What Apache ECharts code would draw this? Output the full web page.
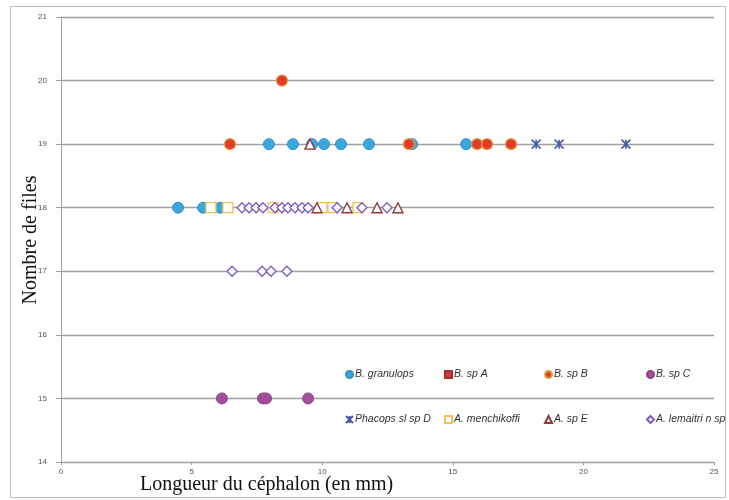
<!DOCTYPE html>
<html>
<head>
<meta charset="utf-8">
<script src="https://cdn.jsdelivr.net/npm/echarts@6/dist/echarts.min.js"></script>
<style>
  html, body { margin: 0; padding: 0; background: #fff; }
  #chart { width: 729px; height: 500px; }
</style>
</head>
<body>
<div id="chart"></div>
<script>
// Cephalon length (mm) vs number of thoracic segments, per taxon
const xTicks = [0, 5, 10, 15, 20, 25];
const yTicks = [14, 15, 16, 17, 18, 19, 20, 21];

const granulops = [[4.48, 18], [5.44, 18], [6.09, 18], [7.96, 19], [8.88, 19], [9.61, 19], [10.07, 19], [10.72, 19], [11.79, 19], [13.44, 19], [15.51, 19]];
const spA = [];
const spB = [[6.47, 19], [8.46, 20], [13.32, 19], [15.93, 19], [16.31, 19], [17.23, 19]];
const spC = [[6.16, 15], [7.73, 15], [7.85, 15], [9.46, 15]];
const phacopsD = [[18.19, 19], [19.07, 19], [21.63, 19]];
const menchikoffi = [[5.74, 18], [6.39, 18], [8.12, 18], [9.99, 18], [10.41, 18], [11.37, 18]];
const spE = [[9.53, 19], [9.80, 18], [10.95, 18], [12.10, 18], [12.90, 18]];
const lemaitri = [[6.93, 18], [7.20, 18], [7.47, 18], [7.73, 18], [8.19, 18], [8.46, 18], [8.69, 18], [8.96, 18], [9.23, 18], [9.46, 18], [10.57, 18], [11.52, 18], [12.48, 18],
  [6.55, 17], [7.70, 17], [8.04, 17], [8.65, 17]];

const seriesNames = ['B. granulops', 'B. sp A', 'B. sp B', 'B. sp C', 'Phacops sl sp D', 'A. menchikoffi', 'A. sp E', 'A. lemaitri n sp'];
const seriesData = [granulops, spA, spB, spC, phacopsD, menchikoffi, spE, lemaitri];

const asterisk = 'path://M0,0L10,10M10,0L0,10M5,0L5,10';
const styles = [
  { symbol: 'circle', size: 11, item: { color: '#3CA7DE', borderColor: '#3090C6', borderWidth: 1 } },
  { symbol: 'rect', size: 10, item: { color: '#C8403A', borderColor: '#A83030', borderWidth: 1 } },
  { symbol: 'circle', size: 11, item: { color: '#E33B28', borderColor: '#D9A040', borderWidth: 1.2 } },
  { symbol: 'circle', size: 11, item: { color: '#A3509C', borderColor: '#8E4488', borderWidth: 1 } },
  { symbol: asterisk, size: 9, item: { color: 'rgba(0,0,0,0)', borderColor: '#4A5AA6', borderWidth: 1.6 } },
  { symbol: 'rect', size: 10, item: { color: '#fff', borderColor: '#EFC350', borderWidth: 1.3 } },
  { symbol: 'triangle', size: 10, item: { color: '#fff', borderColor: '#8E3A3A', borderWidth: 1.4 } },
  { symbol: 'diamond', size: 10, item: { color: '#fff', borderColor: '#7A5CB8', borderWidth: 1.3 } }
];

const legendX = [340, 439, 539, 641];
const legends = seriesNames.map((name, i) => ({
  data: [name],
  left: legendX[i % 4],
  top: i < 4 ? 364 : 409,
  itemWidth: 7,
  itemHeight: 7,
  itemGap: 2,
  selectedMode: false,
  textStyle: { fontFamily: 'Liberation Sans', fontStyle: 'italic', fontSize: 10.5, color: '#333', padding: [0, 0, 0, -3] }
}));

const chart = echarts.init(document.getElementById('chart'), null, { renderer: 'canvas' });
chart.setOption({
  animation: false,
  backgroundColor: '#fff',
  grid: { left: 61, right: 15, top: 17, bottom: 38 },
  legend: legends,
  xAxis: {
    type: 'value', min: xTicks[0], max: xTicks[xTicks.length - 1], interval: 5,
    axisLine: { show: true, lineStyle: { color: '#A0A0A0', width: 1 } },
    axisTick: { show: true, length: 3, lineStyle: { color: '#A0A0A0' } },
    axisLabel: { fontFamily: 'Liberation Sans', fontSize: 8, color: '#555', margin: 6 },
    splitLine: { show: false }
  },
  yAxis: {
    type: 'value', min: yTicks[0], max: yTicks[yTicks.length - 1], interval: 1,
    axisLine: { show: true, lineStyle: { color: '#A0A0A0', width: 1 } },
    axisTick: { show: true, length: 5, lineStyle: { color: '#A0A0A0' } },
    axisLabel: { fontFamily: 'Liberation Sans', fontSize: 8, color: '#555', margin: 14 },
    splitLine: { show: true, lineStyle: { color: '#A0A0A0', width: 1.3 } }
  },
  graphic: [
    { type: 'rect', shape: { x: 10.5, y: 6.5, width: 715, height: 491 }, style: { fill: 'none', stroke: '#BDBDBD', lineWidth: 1 }, silent: true, z: -1 },
    { type: 'text', left: 140, top: 475, style: { text: 'Longueur du céphalon (en mm)', font: '20px "Liberation Serif"', fill: '#111' } },
    { type: 'text', x: 31, y: 240, rotation: Math.PI / 2, style: { text: 'Nombre de files', font: '20px "Liberation Serif"', fill: '#111', align: 'center', verticalAlign: 'middle' } }
  ],
  series: seriesNames.map((name, i) => ({
    name: name,
    type: 'scatter',
    data: seriesData[i],
    symbol: styles[i].symbol,
    symbolSize: styles[i].size,
    itemStyle: Object.assign({ opacity: 1 }, styles[i].item),
    emphasis: { disabled: true }
  }))
});
</script>
</body>
</html>
